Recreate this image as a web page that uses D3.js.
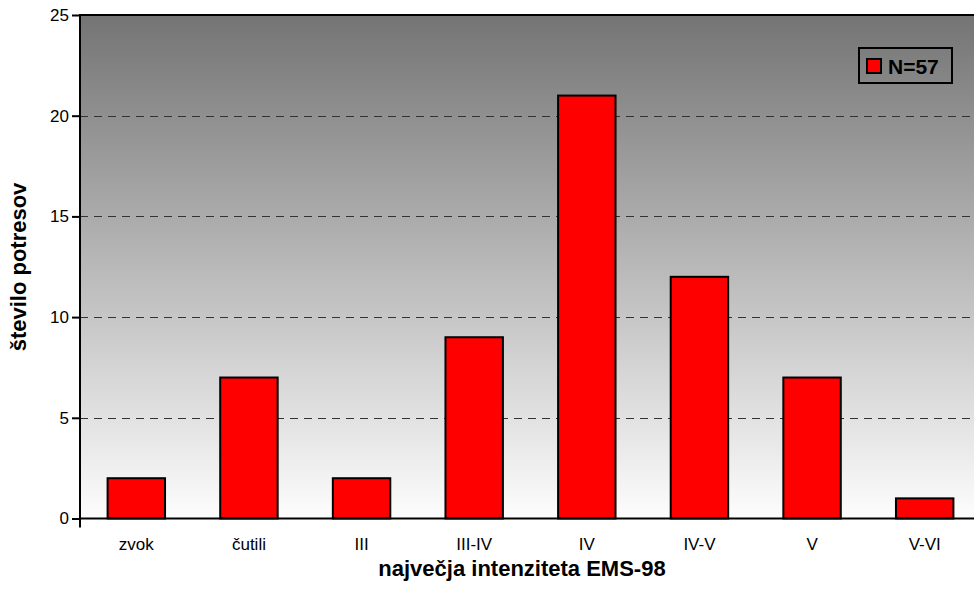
<!DOCTYPE html>
<html>
<head>
<meta charset="utf-8">
<script src="https://cdn.jsdelivr.net/npm/d3@7"></script>
<style>
  body { margin: 0; background: #fff; }
  text { font-family: Arial, "Liberation Sans", sans-serif; }
</style>
</head>
<body>
<script>
var width = 974, height = 589;
var margin = {top: 15, right: -7, bottom: 70, left: 80};

// data
var categories = ["zvok", "čutili", "III", "III-IV", "IV", "IV-V", "V", "V-VI"];
var counts = [2, 7, 2, 9, 21, 12, 7, 1];
var yTicks = [0, 5, 10, 15, 20, 25];
var legendLabel = "N=57";

var svg = d3.select("body").append("svg")
  .attr("width", width)
  .attr("height", height);

var x = d3.scaleBand()
  .domain(categories)
  .range([margin.left, width - margin.right])
  .paddingInner(0.49)
  .paddingOuter(0.245);

var y = d3.scaleLinear()
  .domain([0, 25])
  .range([height - margin.bottom - 0.5, margin.top]);

// background gradient
var grad = svg.append("defs").append("linearGradient")
  .attr("id", "bg")
  .attr("x1", 0).attr("y1", 0).attr("x2", 0).attr("y2", 1);
grad.append("stop").attr("offset", "0%").attr("stop-color", "#747474");
grad.append("stop").attr("offset", "100%").attr("stop-color", "#fdfdfd");

svg.append("rect")
  .attr("x", margin.left)
  .attr("y", margin.top)
  .attr("width", width - margin.left - margin.right)
  .attr("height", y(0) - margin.top)
  .attr("fill", "url(#bg)");

// gridlines
svg.append("g")
  .selectAll("line")
  .data(yTicks.filter(function(d) { return d > 0 && d < 25; }))
  .enter().append("line")
    .attr("x1", margin.left)
    .attr("x2", width)
    .attr("y1", function(d) { return Math.round(y(d)) + 0.5; })
    .attr("y2", function(d) { return Math.round(y(d)) + 0.5; })
    .attr("stroke", "#333")
    .attr("stroke-width", 1)
    .attr("stroke-dasharray", "8,6");

// top border
svg.append("line")
  .attr("x1", margin.left).attr("x2", width)
  .attr("y1", margin.top).attr("y2", margin.top)
  .attr("stroke", "#000").attr("stroke-width", 2);

// bars
svg.append("g")
  .selectAll("rect")
  .data(counts)
  .enter().append("rect")
    .attr("x", function(d, i) { return x(categories[i]); })
    .attr("y", function(d) { return y(d); })
    .attr("width", x.bandwidth())
    .attr("height", function(d) { return y(0) - y(d); })
    .attr("fill", "#ff0000")
    .attr("stroke", "#000")
    .attr("stroke-width", 2);

// y axis
var yAxis = svg.append("g")
  .attr("transform", "translate(" + margin.left + ",0)")
  .call(d3.axisLeft(y).tickValues(yTicks).tickSize(8).tickPadding(3).tickSizeOuter(0));
yAxis.select(".domain").remove();
yAxis.selectAll(".tick line").attr("stroke", "#000").attr("stroke-width", 2);
yAxis.selectAll("text").attr("font-size", 17).attr("fill", "#000");

svg.append("line")
  .attr("x1", margin.left).attr("x2", margin.left)
  .attr("y1", margin.top - 1).attr("y2", y(0) + 9)
  .attr("stroke", "#000").attr("stroke-width", 2);

// x axis
var xAxis = svg.append("g")
  .attr("transform", "translate(0," + y(0) + ")")
  .call(d3.axisBottom(x).tickSize(0).tickPadding(19));
xAxis.select(".domain").remove();
xAxis.selectAll("text").attr("font-size", 17).attr("fill", "#000");

svg.append("line")
  .attr("x1", margin.left).attr("x2", width)
  .attr("y1", y(0)).attr("y2", y(0))
  .attr("stroke", "#000").attr("stroke-width", 2);

// titles
svg.append("text")
  .attr("x", 522)
  .attr("y", 576)
  .attr("text-anchor", "middle")
  .attr("font-size", 22)
  .attr("font-weight", "bold")
  .text("največja intenziteta EMS-98");

svg.append("text")
  .attr("transform", "translate(26,267) rotate(-90)")
  .attr("text-anchor", "middle")
  .attr("font-size", 22)
  .attr("font-weight", "bold")
  .text("število potresov");

// legend
var legend = svg.append("g").attr("transform", "translate(859,48)");
legend.append("rect")
  .attr("width", 93).attr("height", 35)
  .attr("fill", "none").attr("stroke", "#000").attr("stroke-width", 2);
legend.append("rect")
  .attr("x", 8).attr("y", 11).attr("width", 14).attr("height", 14)
  .attr("fill", "#ff0000").attr("stroke", "#000").attr("stroke-width", 2);
legend.append("text")
  .attr("x", 29).attr("y", 26)
  .attr("font-size", 21)
  .attr("font-weight", "bold")
  .text(legendLabel);
</script>
</body>
</html>
